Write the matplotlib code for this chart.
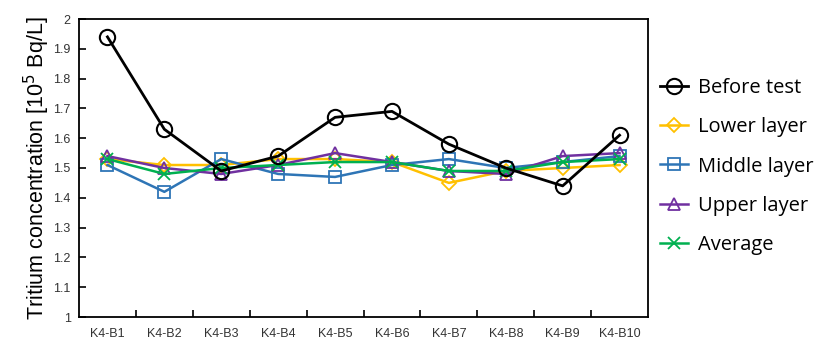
import matplotlib
matplotlib.use("Agg")
import matplotlib.pyplot as plt
import numpy as np

categories = ["K4-B1", "K4-B2", "K4-B3", "K4-B4", "K4-B5", "K4-B6", "K4-B7", "K4-B8", "K4-B9", "K4-B10"]
before_test = [1.94, 1.63, 1.49, 1.54, 1.67, 1.69, 1.58, 1.50, 1.44, 1.61]
lower_layer = [1.53, 1.51, 1.51, 1.53, 1.53, 1.52, 1.45, 1.49, 1.50, 1.51]
middle_layer = [1.51, 1.42, 1.53, 1.48, 1.47, 1.51, 1.53, 1.50, 1.52, 1.54]
upper_layer = [1.54, 1.50, 1.48, 1.51, 1.55, 1.52, 1.49, 1.48, 1.54, 1.55]
average = [1.53, 1.48, 1.50, 1.51, 1.52, 1.52, 1.49, 1.49, 1.52, 1.53]
y_ticks = [1, 1.1, 1.2, 1.3, 1.4, 1.5, 1.6, 1.7, 1.8, 1.9, 2]
y_tick_labels = ["1", "1.1", "1.2", "1.3", "1.4", "1.5", "1.6", "1.7", "1.8", "1.9", "2"]

fig = plt.figure(figsize=(8.3, 3.42), dpi=100)
ax = fig.add_axes([79/830, 1-317/342, (648-79)/830, (317-19)/342])

x = np.arange(len(categories))
ms = 9
ax.plot(x, before_test, color="black", marker="o", ms=11, mfc="none", mew=1.5, lw=2, label="Before test", zorder=6)
ax.plot(x, lower_layer, color="#FFC000", marker="D", ms=7, mfc="none", mew=1.3, lw=1.8, label="Lower layer", zorder=3)
ax.plot(x, middle_layer, color="#2E75B6", marker="s", ms=ms, mfc="none", mew=1.3, lw=1.8, label="Middle layer", zorder=4)
ax.plot(x, upper_layer, color="#7030A0", marker="^", ms=ms, mfc="none", mew=1.3, lw=1.8, label="Upper layer", zorder=5)
ax.plot(x, average, color="#00B050", marker="x", ms=ms, mew=1.3, lw=1.8, label="Average", zorder=5)

ax.set_xlim(-0.5, len(categories) - 0.5)
ax.set_ylim(1, 2)
ax.set_xticks(x)
ax.set_xticklabels(categories, fontsize=9, family="Liberation Sans", color="#333333")
ax.set_xticks(np.arange(0.5, len(categories) - 1, 1), minor=True)
ax.tick_params(axis="x", which="major", length=0, pad=8)
ax.tick_params(axis="x", which="minor", direction="in", length=5, width=1.2)
ax.set_yticks(y_ticks)
ax.set_yticklabels(y_tick_labels, fontsize=9, family="Liberation Sans", color="#333333")
ax.tick_params(axis="y", direction="in", length=5, width=1.2, pad=6)
for s in ax.spines.values():
    s.set_linewidth(1.3)

ax.set_ylabel("Tritium concentration [10$^5$ Bq/L]", fontsize=15.5, family="Liberation Sans", labelpad=1)

leg = ax.legend(loc="center left", bbox_to_anchor=(1.0, 0.505), frameon=False,
                prop={"family": "Open Sans", "size": 14.5}, handlelength=1.4,
                labelspacing=0.95, handletextpad=0.5, borderaxespad=0.2)

fig.savefig("out.png", dpi=100)
